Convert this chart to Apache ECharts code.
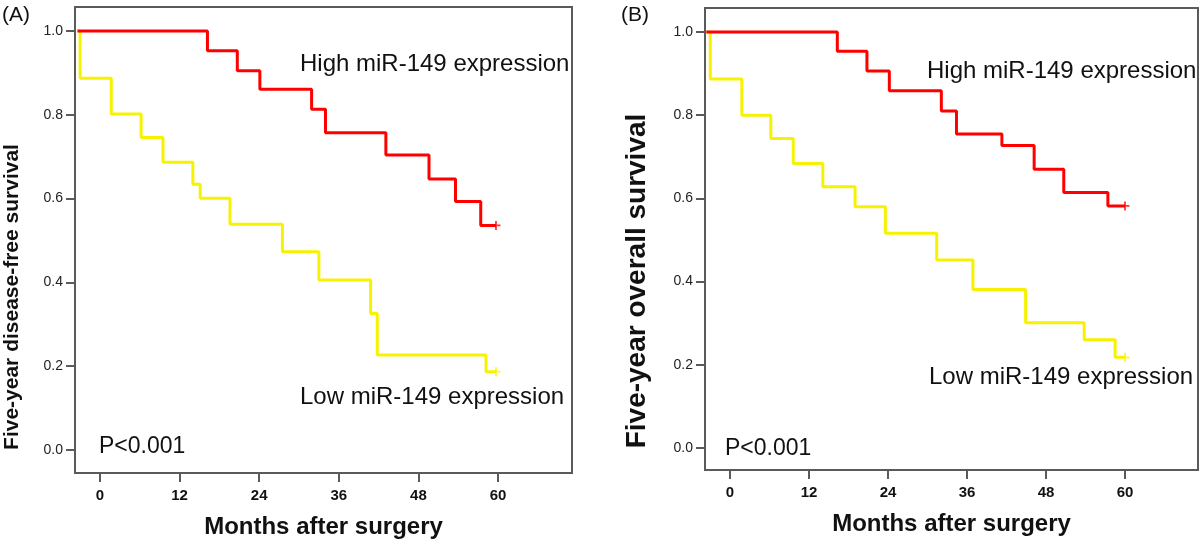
<!DOCTYPE html>
<html>
<head>
<meta charset="utf-8">
<script src="https://cdn.jsdelivr.net/npm/echarts@6/dist/echarts.min.js"></script>
<style>
html,body{margin:0;padding:0;background:#fff;}
#chart{width:1200px;height:544px;}
</style>
</head>
<body>
<div id="chart"></div>
<script>
// ---- data ----
var xTicks = [0, 12, 24, 36, 48, 60];
var yTicks = [0, 0.2, 0.4, 0.6, 0.8, 1.0];

// Panel A: five-year disease-free survival
var aHighTimes = [-3.4, 16.2, 20.7, 24.1, 31.9, 34.0, 43.1, 49.6, 53.6, 57.4, 59.7];
var aHighSurv  = [1.0, 0.953, 0.905, 0.861, 0.813, 0.757, 0.704, 0.647, 0.593, 0.536, 0.536];
var aLowTimes  = [-3.4, -3.0, 1.7, 6.2, 9.5, 14.0, 15.1, 19.6, 27.5, 33.0, 40.8, 41.8, 58.2, 59.7];
var aLowSurv   = [1.0, 0.887, 0.802, 0.746, 0.687, 0.634, 0.601, 0.539, 0.473, 0.406, 0.326, 0.227, 0.187, 0.187];

// Panel B: five-year overall survival
var bHighTimes = [-3.6, 16.3, 20.8, 24.2, 32.1, 34.4, 41.3, 46.2, 50.7, 57.4, 60.0];
var bHighSurv  = [1.0, 0.954, 0.906, 0.859, 0.810, 0.755, 0.727, 0.670, 0.614, 0.582, 0.582];
var bLowTimes  = [-3.6, -3.0, 1.8, 6.2, 9.6, 14.1, 19.0, 23.6, 31.4, 36.9, 44.9, 53.8, 58.5, 60.0];
var bLowSurv   = [1.0, 0.887, 0.800, 0.744, 0.684, 0.628, 0.580, 0.516, 0.452, 0.381, 0.301, 0.260, 0.218, 0.218];

var panelLabels = ['(A)', '(B)'];
var yTitles = ['Five-year disease-free survival', 'Five-year overall survival'];
var xTitle = 'Months after surgery';
var highLabel = 'High miR-149 expression';
var lowLabel = 'Low miR-149 expression';
var pLabel = 'P<0.001';

// ---- build ----
function pairs(t, s) { return t.map(function (v, i) { return [v, s[i]]; }); }
function last(t, s) { return [[t[t.length - 1], s[s.length - 1]]]; }

var RED = '#ff0000', YEL = '#f7f200', FRAME = '#5a5a5a';
var PLUS = 'path://M4,0H6V4H10V6H6V10H4V6H0V4H4Z';
var FONT = "'Liberation Sans',Arial,sans-serif";

var chart = echarts.init(document.getElementById('chart'), null, {renderer: 'canvas'});

function xAxisFor(idx, min, max) {
  return {
    type: 'value', gridIndex: idx, min: min, max: max, position: 'bottom',
    splitLine: {show: false},
    axisLine: {show: false, onZero: false},
    axisTick: {show: true, inside: false, length: 9, customValues: xTicks, lineStyle: {color: FRAME, width: 2}},
    axisLabel: {show: true, customValues: xTicks, margin: 15, color: '#111', fontSize: 15, fontWeight: 'bold',
      fontFamily: FONT},
    name: xTitle, nameLocation: 'middle', nameGap: 42,
    nameTextStyle: {fontSize: 24, fontWeight: 'bold', color: '#111', fontFamily: FONT}
  };
}
function yAxisFor(idx, min, max) {
  return {
    type: 'value', gridIndex: idx, min: min, max: max, position: 'left',
    splitLine: {show: false},
    axisLine: {show: false, onZero: false},
    axisTick: {show: true, inside: false, length: 9, customValues: yTicks, lineStyle: {color: FRAME, width: 2}},
    axisLabel: {show: true, customValues: yTicks, margin: 12, color: '#222', fontSize: 14,
      fontFamily: FONT,
      formatter: function (v) { return v.toFixed(1); }}
  };
}
function stepSeries(idx, data, color) {
  return {type: 'line', xAxisIndex: idx, yAxisIndex: idx, step: 'end', data: data,
    showSymbol: false, symbol: 'none', lineStyle: {color: color, width: 3}, animation: false, z: 3};
}
function censor(idx, data, color) {
  return {type: 'scatter', xAxisIndex: idx, yAxisIndex: idx, data: data, symbol: PLUS, symbolSize: 9,
    itemStyle: {color: color}, animation: false, z: 4};
}
function txt(x, y, s, size, weight, rot) {
  var el = {type: 'text', x: x, y: y, z: 10,
    style: {text: s, fontSize: size, fontWeight: weight || 'normal', fill: '#111',
      fontFamily: FONT,
      textAlign: rot ? 'center' : 'left', textVerticalAlign: 'middle'}};
  if (rot) el.rotation = Math.PI / 2;
  return el;
}

var option = {
  backgroundColor: '#ffffff',
  animation: false,
  grid: [
    {left: 75, top: 7, width: 497, height: 466, show: true, borderColor: FRAME, borderWidth: 2, backgroundColor: 'transparent'},
    {left: 705, top: 8, width: 493, height: 462, show: true, borderColor: FRAME, borderWidth: 2, backgroundColor: 'transparent'}
  ],
  xAxis: [xAxisFor(0, -3.77, 71.16), xAxisFor(1, -3.8, 71.09)],
  yAxis: [yAxisFor(0, -0.0549, 1.0573), yAxisFor(1, -0.0529, 1.0577)],
  series: [
    stepSeries(0, pairs(aLowTimes, aLowSurv), YEL),
    stepSeries(0, pairs(aHighTimes, aHighSurv), RED),
    censor(0, last(aLowTimes, aLowSurv), YEL),
    censor(0, last(aHighTimes, aHighSurv), RED),
    stepSeries(1, pairs(bLowTimes, bLowSurv), YEL),
    stepSeries(1, pairs(bHighTimes, bHighSurv), RED),
    censor(1, last(bLowTimes, bLowSurv), YEL),
    censor(1, last(bHighTimes, bHighSurv), RED)
  ],
  graphic: [
    txt(2, 15, panelLabels[0], 21),
    txt(621, 15, panelLabels[1], 21),
    txt(12, 297, yTitles[0], 21, 'bold', true),
    txt(637, 281, yTitles[1], 28, 'bold', true),
    txt(300, 64, highLabel, 24),
    txt(300, 397, lowLabel, 24),
    txt(99, 447, pLabel, 23),
    txt(927, 71, highLabel, 24),
    txt(929, 377, lowLabel, 24),
    txt(725, 449, pLabel, 23)
  ]
};
chart.setOption(option);
</script>
</body>
</html>
